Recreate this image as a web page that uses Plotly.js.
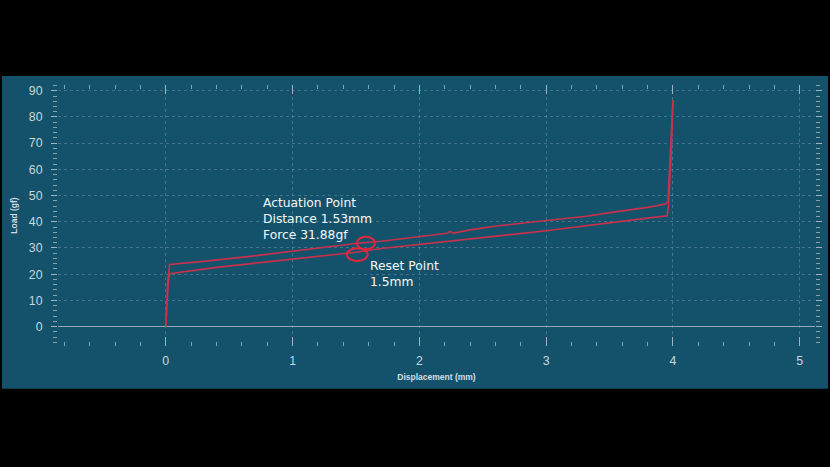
<!DOCTYPE html>
<html><head><meta charset="utf-8">
<script src="https://cdn.plot.ly/plotly-3.0.1.min.js"></script>
<style>html,body{margin:0;padding:0;background:#000;}#chart{width:830px;height:467px;}</style>
</head><body><div id="chart"></div>
<script>
// Press (actuation) stroke
const pressX = [0, 0.005, 0.015, 0.03, 0.3, 0.7, 1.0, 1.3, 1.53, 1.7, 2.0, 2.16, 2.22, 2.24, 2.27, 2.4, 2.61, 3.0, 3.3, 3.53, 3.8, 3.94, 3.96, 4.0];
const pressY = [0, 8, 17, 23.7, 24.9, 27.0, 28.8, 30.4, 31.88, 32.6, 34.3, 35.0, 35.6, 36.3, 35.7, 36.9, 38.4, 40.5, 42.0, 43.7, 45.5, 46.8, 47.8, 86.5];
// Release (reset) stroke
const releaseX = [4.0, 3.985, 3.965, 3.955, 3.8, 3.53, 3.3, 3.0, 2.7, 2.4, 2.0, 1.7, 1.5, 1.2, 0.8, 0.4, 0.05, 0.03, 0.02, 0.01, 0];
const releaseY = [86.5, 65, 46.5, 42.3, 41.4, 39.8, 38.2, 36.6, 35.0, 33.4, 31.4, 29.8, 28.4, 26.9, 24.7, 22.6, 20.6, 20.2, 17, 8, 0.5];
// Marked points
const actuationPoint = {x: 1.578, y: 31.9, rx: 0.071, ry: 2.4};
const resetPoint = {x: 1.51, y: 27.5, rx: 0.082, ry: 2.42};
const actuationLines = ["Actuation Point", "Distance 1.53mm", "Force 31.88gf"];
const actuationLabelPos = {x: 0.748, y: 41.1};
const resetLines = ["Reset Point", "1.5mm"];
const resetLabelPos = {x: 1.597, y: 20.2};
const xTicks = [0, 1, 2, 3, 4, 5];
const yTicks = [0, 10, 20, 30, 40, 50, 60, 70, 80, 90];

const lineColor = '#c9304c';
const circleColor = '#e3263a';
const traces = [
  {x: pressX, y: pressY, type: 'scatter', mode: 'lines', line: {color: lineColor, width: 1.6}, hoverinfo: 'skip'},
  {x: releaseX, y: releaseY, type: 'scatter', mode: 'lines', line: {color: lineColor, width: 1.6}, hoverinfo: 'skip'}
];

function ellipse(p) {
  return {type: 'circle', xref: 'x', yref: 'y', x0: p.x - p.rx, x1: p.x + p.rx, y0: p.y - p.ry, y1: p.y + p.ry,
    line: {color: circleColor, width: 2}, fillcolor: 'rgba(0,0,0,0)'};
}
const labelFont = {family: 'DejaVu Sans, sans-serif', size: 12.3, color: '#f4f7f8'};
function labelBlock(lines, pos) {
  return {x: pos.x, y: pos.y, xref: 'x', yref: 'y', text: lines.join('<br>'), showarrow: false,
    xanchor: 'left', yanchor: 'middle', align: 'left', font: labelFont};
}

const tickFont = {family: 'Liberation Sans, Arial, sans-serif', size: 12.3, color: '#c9d6dc'};
const gridColor = 'rgba(210,225,235,0.24)';

const layout = {
  width: 830, height: 467,
  margin: {l: 58, r: 15, t: 85, b: 121},
  paper_bgcolor: '#000000',
  plot_bgcolor: 'rgba(0,0,0,0)',
  showlegend: false,
  xaxis: {
    range: [-0.85, 5.12], tickvals: xTicks, ticktext: xTicks.map(String),
    ticks: 'inside', ticklen: 9, tickwidth: 1, tickcolor: '#9fb4be',
    minor: {dtick: 0.2, tick0: 0, ticks: 'inside', ticklen: 4, tickcolor: '#8aa2ae', showgrid: false},
    mirror: 'ticks', showline: false,
    showgrid: true, gridcolor: gridColor, griddash: 'dot', gridwidth: 1,
    zeroline: false, tickfont: tickFont, ticklabelstandoff: 6,
    title: {text: 'Displacement (mm)', font: {family: 'Liberation Sans, Arial, sans-serif', size: 8.5, color: '#d3dde2', weight: 'bold'}, standoff: 6}
  },
  yaxis: {
    range: [-7.4, 92.2], tickvals: yTicks, ticktext: yTicks.map(String),
    ticks: 'outside', ticklen: 6, tickwidth: 1, tickcolor: '#9fb4be',
    minor: {dtick: 2, tick0: 0, ticks: 'outside', ticklen: 4, tickcolor: '#8aa2ae', showgrid: false},
    mirror: 'ticks', showline: false,
    showgrid: true, gridcolor: gridColor, griddash: 'dot', gridwidth: 1,
    zeroline: true, zerolinecolor: '#93a9b4', zerolinewidth: 1.5,
    tickfont: tickFont, ticklabelstandoff: 6,
    title: {text: 'Load (gf)', font: {family: 'Liberation Sans, Arial, sans-serif', size: 8.5, color: '#d3dde2', weight: 'bold'}, standoff: 9}
  },
  shapes: [
    {type: 'rect', xref: 'paper', yref: 'paper', x0: -0.074, x1: 1.0172, y0: -0.164, y1: 1.0344,
      fillcolor: '#14526b', line: {width: 0}, layer: 'below'},
    ellipse(actuationPoint),
    ellipse(resetPoint)
  ],
  annotations: [labelBlock(actuationLines, actuationLabelPos), labelBlock(resetLines, resetLabelPos)]
};

Plotly.newPlot('chart', traces, layout, {displayModeBar: false, staticPlot: true});
</script></body></html>
